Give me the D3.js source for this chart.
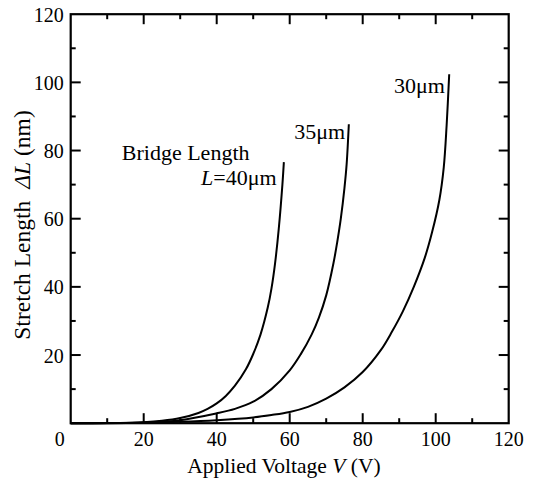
<!DOCTYPE html>
<html>
<head>
<meta charset="utf-8">
<script src="https://cdnjs.cloudflare.com/ajax/libs/d3/7.8.5/d3.min.js"></script>
<style>
  body { margin: 0; background: #fff; }
</style>
</head>
<body>
<svg id="chart" width="536" height="484"></svg>
<script>
// values: applied voltage (V) vs stretch length (nm)
var v40 = [0, 10, 20, 25, 30, 35, 37.5, 40, 42.5, 45, 48, 50, 52, 54, 55, 56, 57, 58, 58.4];
var dl40 = [0, 0.05, 0.3, 0.7, 1.5, 3.0, 4.2, 5.8, 8.0, 11.0, 15.8, 20.3, 26, 34, 39.5, 47, 57, 70, 76.6];

var v35 = [0, 20, 30, 40, 45, 50, 55, 60, 63, 66, 68, 70, 72, 73, 74, 75, 75.6, 76.2];
var dl35 = [0, 0.2, 0.9, 2.9, 4.2, 6.3, 10, 15.5, 20.2, 26, 31, 37.5, 47, 53, 60, 69, 76, 87.7];

var v30 = [0, 20, 30, 40, 50, 55, 60, 65, 70, 75, 80, 85, 88, 91, 94, 97, 99, 101, 102.2, 103, 103.7];
var dl30 = [0, 0.1, 0.4, 0.9, 1.7, 2.4, 3.3, 4.8, 7.2, 10.5, 15.0, 21.5, 26.8, 32.8, 40, 48.5, 56, 65.5, 75, 87.5, 102.4];

var xTicks = [0, 20, 40, 60, 80, 100, 120];
var yTicks = [20, 40, 60, 80, 100, 120];

var FONT = "'Liberation Serif', 'Times New Roman', Times, serif";

var margin = {left: 70.7, right: 27.3, top: 14.2, bottom: 60.8},
    W = 536, H = 484;

var svg = d3.select("#chart");

var x = d3.scaleLinear().domain([0, 120]).range([margin.left, W - margin.right]);
var y = d3.scaleLinear().domain([0, 120]).range([H - margin.bottom, margin.top]);

// ticks, all pointing inward, on all four sides
function ticks(vals, len) {
  vals.forEach(function (t) {
    svg.append("line").attr("x1", x(t)).attr("x2", x(t))
      .attr("y1", y(0)).attr("y2", y(0) - len);
    svg.append("line").attr("x1", x(t)).attr("x2", x(t))
      .attr("y1", y(120)).attr("y2", y(120) + len);
    svg.append("line").attr("y1", y(t)).attr("y2", y(t))
      .attr("x1", x(0)).attr("x2", x(0) + len);
    svg.append("line").attr("y1", y(t)).attr("y2", y(t))
      .attr("x1", x(120)).attr("x2", x(120) - len);
  });
}
ticks(d3.range(20, 120, 20), 10);
ticks(d3.range(10, 120, 20), 5);
svg.selectAll("line").attr("stroke", "#000").attr("stroke-width", 2);

svg.append("rect")
  .attr("x", x(0)).attr("y", y(120))
  .attr("width", x(120) - x(0)).attr("height", y(0) - y(120))
  .attr("fill", "none").attr("stroke", "#000").attr("stroke-width", 2.2);

// tick labels
svg.selectAll(".xl").data(xTicks).enter().append("text")
  .attr("class", "xl")
  .attr("x", function (d) { return d === 0 ? x(d) - 11 : x(d); })
  .attr("y", y(0) + 23)
  .attr("text-anchor", "middle")
  .style("font-size", "20px")
  .text(function (d) { return d; });

svg.selectAll(".yl").data(yTicks).enter().append("text")
  .attr("class", "yl")
  .attr("x", x(0) - 7)
  .attr("y", function (d) { return y(d) + 7.5; })
  .attr("text-anchor", "end")
  .style("font-size", "20px")
  .text(function (d) { return d; });

// axis titles
var xt = svg.append("text")
  .attr("x", 284).attr("y", 473)
  .attr("text-anchor", "middle")
  .style("font-size", "21.5px");
xt.append("tspan").text("Applied Voltage ");
xt.append("tspan").style("font-style", "italic").text("V");
xt.append("tspan").text(" (V)");

var yt = svg.append("text")
  .attr("transform", "translate(29.5," + 225 + ") rotate(-90)")
  .attr("text-anchor", "middle")
  .style("font-size", "23.5px");
yt.append("tspan").text("Stretch Length");
yt.append("tspan").attr("dx", 12).style("font-style", "italic").text("\u0394L");
yt.append("tspan").text(" (nm)");

// curves
var line = d3.line()
  .x(function (d) { return x(d[0]); })
  .y(function (d) { return y(d[1]); })
  .curve(d3.curveCatmullRom.alpha(0.5));

[[v40, dl40], [v35, dl35], [v30, dl30]].forEach(function (s) {
  svg.append("path")
    .datum(d3.zip(s[0], s[1]))
    .attr("d", line)
    .attr("fill", "none")
    .attr("stroke", "#000")
    .attr("stroke-width", 2);
});

// annotations
svg.append("text")
  .attr("x", x(14)).attr("y", y(77.2))
  .style("font-size", "22px")
  .text("Bridge Length");

var l40 = svg.append("text")
  .attr("x", x(56.4)).attr("y", y(69.8))
  .attr("text-anchor", "end")
  .style("font-size", "22px");
l40.append("tspan").style("font-style", "italic").text("L");
l40.append("tspan").text("=40\u03bcm");

svg.append("text")
  .attr("x", x(75.2)).attr("y", y(83.5))
  .attr("text-anchor", "end")
  .style("font-size", "22px")
  .text("35\u03bcm");

svg.append("text")
  .attr("x", x(102.5)).attr("y", y(96.9))
  .attr("text-anchor", "end")
  .style("font-size", "22px")
  .text("30\u03bcm");

svg.selectAll("text").style("font-family", FONT).attr("fill", "#000");
</script>
</body>
</html>
